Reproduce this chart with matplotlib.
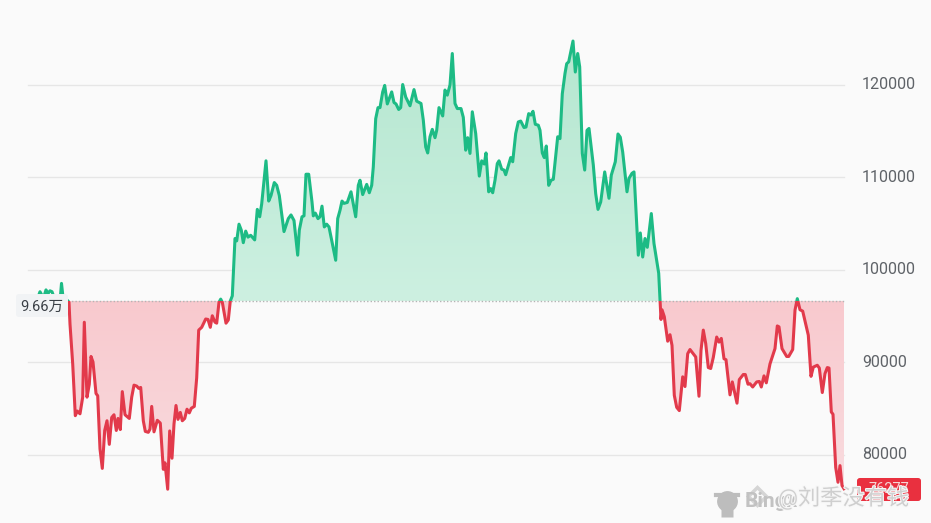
import numpy as np
import matplotlib
matplotlib.use("Agg")
import matplotlib.pyplot as plt
import matplotlib.patheffects as pe
from matplotlib.patches import FancyBboxPatch, Rectangle
from matplotlib.colors import LinearSegmentedColormap

plt.rcParams['font.family'] = ['Roboto', 'Noto Sans CJK SC', 'DejaVu Sans']

# time position (arbitrary sampling units along the chart) and price in thousands
t_early = [28, 36, 38, 40, 42, 44, 46, 48, 50, 52, 54, 58, 60.5, 61.5, 63, 67]
p_early = [96.6, 96.8, 97.0, 97.6, 97.2, 97.1, 97.8, 97.4, 97.7, 97.6, 97.0, 97.0, 97.2, 98.5, 97.0, 96.7]
t_a = [69, 70, 72.7, 75.3, 77.3, 80, 82.7, 84.3, 87, 89.3, 91, 93, 96, 97.7, 100, 102.3, 104.7, 107, 109.3, 111.7,
       114, 116.3, 118, 120.3, 122.3, 125, 129.3, 131.7, 134, 136.7, 138.7, 140.7, 143.3, 145.3, 148.3, 150, 151.7,
       154, 157.3, 160.3, 163.3, 165, 167.7, 169.7, 172, 174, 176, 178, 180.3, 182.3, 184.7, 187, 189.3, 191.3, 194.3,
       196.7, 198.7, 201.7, 205.7, 208, 210.3, 212.3, 215, 216.7, 219, 220.7, 222.3, 226, 228.3, 230.3, 232.3]
p_a = [96.46, 94.1, 89.8, 84.2, 84.7, 84.4, 86.2, 94.3, 86.2, 87.6, 90.6, 90, 86.6, 86.35, 80.6, 78.5, 82.6, 83.65, 81.1, 84,
       84.3, 82.6, 83.9, 82.7, 86.8, 84.3, 83.9, 86.2, 87.5, 87.4, 87.15, 87.25, 83.65, 82.5, 82.4, 82.75, 85.2,
       82.45, 83.7, 83.4, 78.4, 79.1, 76.25, 82.55, 79.6, 83.3, 85.3, 83.8, 84.55, 83.65, 83.9, 84.9, 84.5, 85, 85.2,
       88.3, 93.45, 93.75, 94.65, 94.6, 93.75, 95, 94.3, 94.2, 96.46, 96.8, 96.46, 94.2, 94.55, 96.6, 97.15]
t_b = [235, 236.7, 239, 241.3, 243.3, 245.7, 248, 250.7, 254.7, 257.3, 259.7, 261.7, 266, 268.7, 271, 274.3, 276.7, 279.3,
       284, 288.3, 291, 294, 297.7, 299.3, 302, 304, 306, 308.7, 312, 313.3, 315.3, 318, 320, 322, 324.3, 326.7, 329,
       335.7, 337.7, 340, 342, 344, 347.3, 351, 355.7, 358.3, 360, 362.7, 366.7, 369.3, 371.7, 373.3, 375.7, 378, 380,
       382.7, 384.7, 387.3, 391.7, 394, 396, 398.7, 400.7, 402.7, 405.7, 410, 414, 416.7, 421, 423.3, 425.7, 427.7, 430,
       432.3, 435, 436.7, 439, 442.7, 445, 447.3, 450, 452.3]
p_b = [103.35, 103.1, 104.9, 104.25, 102.9, 104.15, 103.5, 103.7, 103.2, 106.5, 105.7, 107.1, 111.75, 107.4, 108, 109.4, 109.1, 108,
       104.1, 105.5, 105.9, 105.3, 101.55, 104.25, 105.7, 105.8, 110.3, 110.3, 107.3, 105.8, 106.1, 105.5, 105.7, 106.85, 104.6, 104.9, 104.6,
       101, 105.5, 106.4, 107.4, 107.15, 107.25, 108.4, 105.7, 109.1, 109.65, 108.1, 109.2, 108.3, 109.1, 111.1, 116.3, 117.5, 117.5,
       119.2, 119.9, 117.9, 119.2, 118.05, 117.9, 117.3, 117.5, 120, 118.65, 117.7, 119.45, 118.2, 117.95, 116.15, 113.25, 112.6, 114.35,
       115.15, 114.25, 115.05, 117.5, 116.6, 119.4, 118.85, 119.95, 123.35]
t_c = [455, 457.3, 461, 463.3, 465.7, 467.7, 470, 472.3, 475.7, 479.3, 481.7, 484.3, 486, 488.7, 490.7, 492.7, 495, 497.3, 499,
       501.7, 504, 505.7, 510.7, 512.7, 515.7, 518.3, 520.7, 524, 526, 528.7, 531, 533, 535.3, 538.3, 540, 542.3, 544.3, 546.3,
       548.7, 551, 553.3, 557.7, 560, 562.3, 565, 566.7, 568.7, 573, 575.3, 577.7, 579.7, 582.3, 584.7, 587, 589, 593.3, 595.7,
       598, 600.7, 604.7, 609, 611.3, 615.3, 618, 620.3, 622.7, 627, 629, 632, 634, 638.3, 640.3, 642.7, 645, 647.3, 651.3, 654,
       656.7, 658.7, 660]
p_c = [117.95, 117.4, 117.4, 116.45, 112.9, 114.25, 112.55, 117.05, 114.7, 110.1, 111.75, 111.4, 112.6, 108.4, 108.75, 108.3, 109.65, 111.45, 111.75,
       110.85, 110.75, 110.25, 112.1, 111.65, 114.7, 115.95, 116.05, 115.35, 115.4, 116.85, 116.7, 117.1, 115.7, 115.6, 115.05, 112.6, 112.1, 113.35,
       109.1, 109.65, 109.75, 114.35, 114.15, 119, 121.2, 122.25, 122.45, 124.7, 121.35, 123.35, 121.9, 112.55, 110.75, 115.05, 115.25, 111.3, 108.2,
       106.5, 107.3, 110.55, 107.7, 110.2, 111.65, 114.65, 114.3, 112.7, 108.4, 109.85, 110.4, 110.55, 101.55, 103.95, 101.35, 103.35, 102.4, 106.05, 102.8,
       101, 99.6, 96.7]
t_d = [661, 662, 664.3, 667.7, 670, 672, 674.3, 676.7, 679.3, 682.7, 685, 687.7, 690, 695.7, 699, 701, 703.3, 705.7, 708.3, 710.7,
       713.3, 716.7, 719, 721.3, 724, 726, 730, 732.3, 737, 739.3, 743.3, 745.3, 748, 750, 752.7, 756.7, 759.3, 761.3, 764, 766.3,
       770, 775, 777.3, 779, 782, 786.7, 788.7, 792.7, 795, 797.3, 800, 802.7, 808.3, 811, 813.3, 817.3, 819.3, 822.3, 825, 827.3,
       829, 831.3, 833, 835.7, 838, 840, 842, 844]
p_d = [94.6, 95.65, 94.9, 92.25, 92.95, 91.8, 86.4, 85.1, 84.75, 88.4, 87.35, 90.9, 91.35, 90.55, 86.3, 91.25, 93.45, 92, 89.4, 89.3,
       90.5, 92.7, 92.15, 92.55, 90.35, 90.25, 86.45, 87.85, 85.55, 88.1, 88.65, 88.65, 87.6, 87.65, 87.3, 87.85, 87.9, 87.3, 88.5, 87.75,
       89.8, 91.45, 93.9, 93.8, 91.45, 90.6, 90.6, 91.35, 95.6, 96.85, 95.65, 95.5, 92.9, 88.45, 89.45, 89.65, 89.35, 86.7, 88.75, 89.4,
       89.35, 84.6, 84.35, 78.6, 77, 78.8, 76.65, 76.3]
yticks = [80000, 90000, 100000, 110000, 120000]
baseline = 96600
base_label = "9.66万"
last_label = "76277"
watermark = "@刘季没有钱"
logo_text = "Bingx"

GREEN, RED = '#1dbb85', '#e23a4b'
BG = '#fafafa'
t = np.array(t_early + t_a + t_b + t_c + t_d, float)
p = np.array(p_early + p_a + p_b + p_c + p_d, float) * 1000

W, H = 931, 523
fig = plt.figure(figsize=(W / 100, H / 100), dpi=100, facecolor=BG)
ax = fig.add_axes([0, 0, 1, 1], facecolor=BG)
ax.set_xlim(0, W)
ymin, ymax = 72597, 129135
ax.set_ylim(ymin, ymax)
ax.axis('off')
for v in yticks:
    ax.plot([28, 844], [v, v], color='#e6e6e6', lw=1.0, zorder=1)
    ax.text(862, v, str(v), color='#5f6368', fontsize=11.5, va='center', ha='left', zorder=6)

tf = np.linspace(t[0], t[-1], 8000)
pf = np.interp(tf, t, p)
mask = tf >= 69
poly = ax.fill_between(tf, pf, baseline, where=mask, color='none', lw=0)

gcm = LinearSegmentedColormap.from_list('g', ['#cdf0e1', '#b5e7d0'])
rcm = LinearSegmentedColormap.from_list('r', ['#f8c9ce', '#f9dcdf'])
grad = np.linspace(0, 1, 256)[:, None]
im1 = ax.imshow(grad, extent=[60, 844, baseline, 124700], origin='lower', aspect='auto', cmap=gcm, zorder=2)
im2 = ax.imshow(grad, extent=[60, 844, baseline, 76000], origin='lower', aspect='auto', cmap=rcm, zorder=2)
for im in (im1, im2):
    im.set_clip_path(poly.get_paths()[0], transform=ax.transData)
ax.set_xlim(0, W); ax.set_ylim(ymin, ymax)

ax.plot([68, 844], [baseline, baseline], color='#b4b4b4', lw=1, ls=(0, (1, 1.5)), zorder=3)

up = Rectangle((0, baseline), W, ymax - baseline, transform=ax.transData)
dn = Rectangle((0, ymin), W, baseline - ymin, transform=ax.transData)
l1, = ax.plot(t, p, color=GREEN, lw=2.2, zorder=4, solid_joinstyle='round')
l2, = ax.plot(t, p, color=RED, lw=2.2, zorder=4, solid_joinstyle='round')
l1.set_clip_path(up); l2.set_clip_path(dn)

# baseline label
ax.add_patch(FancyBboxPatch((16, 94870), 52, 2480, boxstyle='round,pad=0,rounding_size=3', mutation_aspect=100,
                            fc='#f1f3f5', ec='none', zorder=5))
ax.text(42, 96000, base_label, fontsize=10.5, color='#3a3f45', ha='center', va='center', zorder=6)

# last price label
ax.add_patch(FancyBboxPatch((857, 74976), 64, 2486, boxstyle='round,pad=0,rounding_size=3', mutation_aspect=100,
                            fc='#e9303f', ec='none', zorder=5))
ax.text(889, 76220, last_label, fontsize=10.5, color='#f6d5d5', ha='center', va='center', zorder=6)

# watermark
gray = '#bdbdbd'
ax.plot([727], [75000], marker='o', ms=15, color=gray, mec='none', zorder=7)
ax.plot([727], [73900], marker='s', ms=8, color=gray, mec='none', zorder=7)
ax.plot([716, 738], [75600, 75600], color=gray, lw=3, zorder=7)
ax.plot([757], [75500], marker='D', ms=9, mfc='none', mec='#d5d5d5', mew=2.5, zorder=7)
ax.text(745, 74950, logo_text, fontsize=15, color='#c2c2c2', ha='left', va='center', fontweight='bold', zorder=7)
ax.text(778, 75300, watermark, fontsize=16, color='#cfcfcf', ha='left', va='center', zorder=8,
        path_effects=[pe.withStroke(linewidth=1.5, foreground='#f7f7f7')])

fig.savefig('out.png', dpi=100, facecolor=BG)
